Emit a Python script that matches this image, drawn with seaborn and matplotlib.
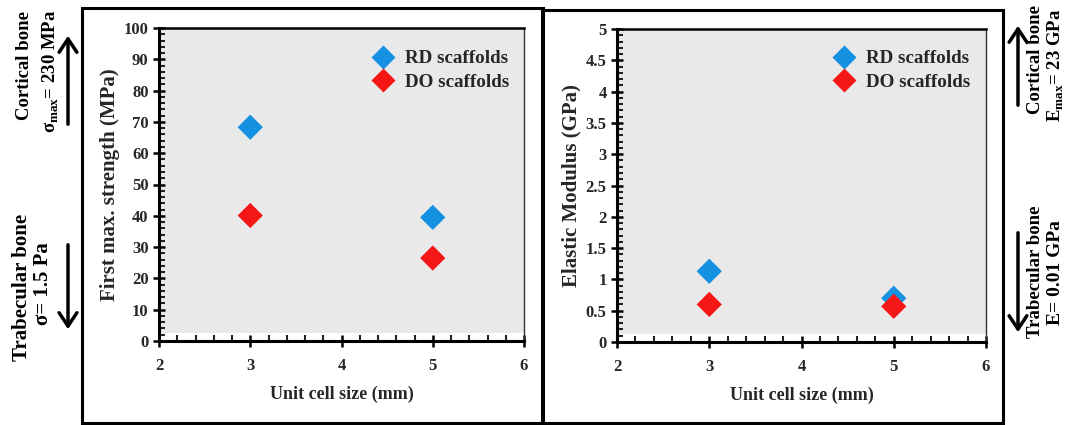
import matplotlib
matplotlib.use("Agg")
import matplotlib.pyplot as plt
from matplotlib.patches import Rectangle, FancyArrowPatch
from matplotlib.ticker import MultipleLocator, FuncFormatter
import pandas as pd
import seaborn as sns

# ---- data ----
cell_size = [3, 5, 3, 5]
scaffold = ["RD scaffolds", "RD scaffolds", "DO scaffolds", "DO scaffolds"]
strength_mpa = [68.3, 39.5, 40.1, 26.5]
modulus_gpa = [1.13, 0.70, 0.60, 0.57]

series_order = ["RD scaffolds", "DO scaffolds"]
series_colors = {"RD scaffolds": "#1591e2", "DO scaffolds": "#f51616"}

df = pd.DataFrame({
    "Unit cell size (mm)": cell_size,
    "Scaffold": scaffold,
    "strength": strength_mpa,
    "modulus": modulus_gpa,
})

sns.set_theme(style="white")
plt.rcParams["font.family"] = ["Liberation Serif", "DejaVu Serif"]
plt.rcParams["font.weight"] = "bold"
plt.rcParams["axes.labelweight"] = "bold"

W, H = 1070, 425
fig = plt.figure(figsize=(W / 100, H / 100), dpi=100)


def px_rect(x0, y0, x1, y1):
    return [x0 / W, 1 - y1 / H, (x1 - x0) / W, (y1 - y0) / H]


ax1 = fig.add_axes(px_rect(159, 28, 524, 341))
ax2 = fig.add_axes(px_rect(617, 29, 986, 342))

panels = [
    (ax1, "strength", "First max. strength (MPa)", (0, 100), 10, 2, 0.588, 0.930),
    (ax2, "modulus", "Elastic Modulus (GPa)", (0, 5), 0.5, 0.1, 0.590, 0.933),
]

for ax, col, ylabel, ylim, major, minor, lx, ly in panels:
    ax.set_facecolor("#e9e9e9")
    # plot area ends slightly above the x axis
    ax.add_patch(Rectangle((0, 0), 1, 0.026, transform=ax.transAxes,
                           facecolor="white", edgecolor="none", zorder=0.5))
    sns.scatterplot(data=df, x="Unit cell size (mm)", y=col, hue="Scaffold",
                    hue_order=series_order, palette=series_colors,
                    marker="D", s=165, edgecolor="none", ax=ax, zorder=3,
                    legend=False)
    ax.set_xlim(2, 6)
    ax.set_ylim(*ylim)
    ax.xaxis.set_major_locator(MultipleLocator(1))
    ax.xaxis.set_minor_locator(MultipleLocator(0.2))
    ax.yaxis.set_major_locator(MultipleLocator(major))
    ax.yaxis.set_minor_locator(MultipleLocator(minor))
    ax.yaxis.set_major_formatter(FuncFormatter(lambda v, p: f"{v:g}"))
    ax.tick_params(axis="both", which="major", direction="inout", length=9,
                   width=1.8, color="black", labelsize=12, pad=3,
                   bottom=True, left=True)
    ax.tick_params(axis="both", which="minor", direction="in", length=4,
                   width=1.5, color="#222222", bottom=True, left=True)
    ax.tick_params(axis="x", which="major", pad=8)
    for lab in ax.get_xticklabels() + ax.get_yticklabels():
        lab.set_fontweight("bold")
    for side in ["left", "bottom"]:
        ax.spines[side].set_linewidth(2.2)
        ax.spines[side].set_color("black")
    ax.spines["top"].set_linewidth(1.8)
    ax.spines["top"].set_color("black")
    ax.spines["right"].set_linewidth(1.0)
    ax.spines["right"].set_color("#333333")
    ax.set_xlabel("Unit cell size (mm)", fontsize=13, fontweight="bold",
                  labelpad=8)
    ax.set_ylabel(ylabel, fontsize=15, fontweight="bold", labelpad=3)

    handles = [plt.Line2D([], [], marker="D", linestyle="none",
                          markersize=12.5, markerfacecolor=series_colors[n],
                          markeredgecolor="none") for n in series_order]
    ax.legend(handles, series_order, loc="upper left",
              bbox_to_anchor=(lx, ly), frameon=False,
              handlelength=1.0, handletextpad=0.65, labelspacing=0.33,
              borderpad=0.0, borderaxespad=0.0,
              prop={"weight": "bold", "size": 13.7})

# panel frames
for x0, y0, x1, y1 in [(82, 8, 543, 423), (542, 10, 1003, 423)]:
    fig.add_artist(Rectangle((x0 / W, 1 - y1 / H), (x1 - x0) / W,
                             (y1 - y0) / H, transform=fig.transFigure,
                             fill=False, edgecolor="black", linewidth=2.2))

txt = dict(rotation=90, ha="center", va="center", fontweight="bold",
           color="black")


def ftext(x, y, s, size):
    fig.text(x / W, 1 - y / H, s, fontsize=size, **txt)


def farrow(x, y_from, y_to):
    fig.add_artist(FancyArrowPatch(
        (x / W, 1 - y_from / H), (x / W, 1 - y_to / H),
        transform=fig.transFigure, arrowstyle="->,head_length=6,head_width=4",
        linewidth=2.5, color="black", mutation_scale=1.6))


# stress limits of bone
ftext(25, 66, "Cortical bone", 13.5)
ftext(51, 71, r"σ$_{\mathregular{max}}$= 230 MPa", 13.5)
farrow(68, 127, 33)
ftext(22, 287, "Trabecular bone", 15)
ftext(43, 284, "σ= 1.5 Pa", 15)
farrow(68, 242, 332)

# modulus limits of bone
ftext(1035, 60, "Cortical bone", 13.5)
ftext(1056, 65, r"E$_{\mathregular{max}}$= 23 GPa", 13.5)
farrow(1018, 108, 23)
ftext(1035, 272, "Trabecular bone", 13.5)
ftext(1056, 273, "E= 0.01 GPa", 14)
farrow(1018, 230, 335)

fig.savefig("out.png", dpi=100, facecolor="white")
